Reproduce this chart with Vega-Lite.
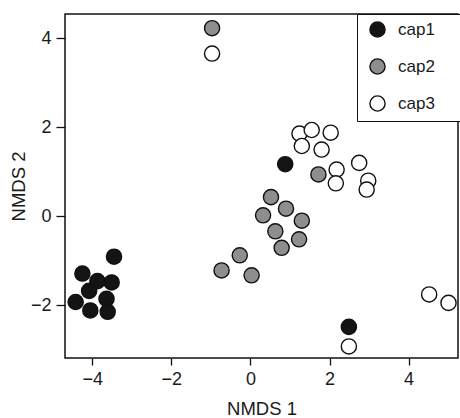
{
  "$schema": "https://vega.github.io/schema/vega-lite/v6.json",
  "autosize": "none",
  "width": 393,
  "height": 344,
  "padding": {"left": 65, "top": 14, "right": 2, "bottom": 60},
  "background": "white",
  "config": {
    "view": {"stroke": "#111", "strokeWidth": 1.5},
    "font": "Liberation Sans",
    "axis": {"grid": false, "domain": false, "tickColor": "#111", "tickWidth": 1.3, "labelFont": "Liberation Sans", "labelFontSize": 18, "labelColor": "#1a1a1a", "titleFont": "Liberation Sans", "titleFontSize": 18.5, "titleFontWeight": "normal", "titleColor": "#1a1a1a"}
  },
  "data": {
    "values": [
      {"x": -3.45, "y": -0.91, "cap": "cap1"},
      {"x": -4.25, "y": -1.29, "cap": "cap1"},
      {"x": -3.87, "y": -1.46, "cap": "cap1"},
      {"x": -3.51, "y": -1.49, "cap": "cap1"},
      {"x": -4.08, "y": -1.68, "cap": "cap1"},
      {"x": -4.42, "y": -1.93, "cap": "cap1"},
      {"x": -3.64, "y": -1.86, "cap": "cap1"},
      {"x": -4.05, "y": -2.12, "cap": "cap1"},
      {"x": -3.61, "y": -2.15, "cap": "cap1"},
      {"x": 0.88, "y": 1.17, "cap": "cap1"},
      {"x": 2.49, "y": -2.49, "cap": "cap1"},
      {"x": -0.97, "y": 4.23, "cap": "cap2"},
      {"x": 1.72, "y": 0.94, "cap": "cap2"},
      {"x": 0.52, "y": 0.43, "cap": "cap2"},
      {"x": 0.9, "y": 0.17, "cap": "cap2"},
      {"x": 0.32, "y": 0.02, "cap": "cap2"},
      {"x": 1.3, "y": -0.1, "cap": "cap2"},
      {"x": 0.63, "y": -0.34, "cap": "cap2"},
      {"x": 1.23, "y": -0.52, "cap": "cap2"},
      {"x": 0.79, "y": -0.71, "cap": "cap2"},
      {"x": -0.27, "y": -0.88, "cap": "cap2"},
      {"x": -0.73, "y": -1.22, "cap": "cap2"},
      {"x": 0.03, "y": -1.33, "cap": "cap2"},
      {"x": -0.97, "y": 3.66, "cap": "cap3"},
      {"x": 1.24, "y": 1.86, "cap": "cap3"},
      {"x": 1.55, "y": 1.94, "cap": "cap3"},
      {"x": 2.03, "y": 1.88, "cap": "cap3"},
      {"x": 1.3, "y": 1.58, "cap": "cap3"},
      {"x": 1.8, "y": 1.5, "cap": "cap3"},
      {"x": 2.75, "y": 1.2, "cap": "cap3"},
      {"x": 2.18, "y": 1.05, "cap": "cap3"},
      {"x": 2.16, "y": 0.74, "cap": "cap3"},
      {"x": 2.98, "y": 0.8, "cap": "cap3"},
      {"x": 2.94, "y": 0.6, "cap": "cap3"},
      {"x": 4.52, "y": -1.76, "cap": "cap3"},
      {"x": 5.01, "y": -1.95, "cap": "cap3"},
      {"x": 2.49, "y": -2.93, "cap": "cap3"}
    ]
  },
  "mark": {"type": "point", "shape": "circle", "filled": true, "size": 230, "stroke": "#111", "strokeWidth": 1.4, "opacity": 1},
  "encoding": {
    "x": {"field": "x", "type": "quantitative", "title": "NMDS 1",
      "scale": {"domain": [-4.69, 5.25], "nice": false, "zero": false},
      "axis": {"values": [-4, -2, 0, 2, 4], "tickSize": 7, "labelPadding": 5, "titleY": 56, "titleBaseline": "alphabetic"}},
    "y": {"field": "y", "type": "quantitative", "title": "NMDS 2",
      "scale": {"domain": [-3.19, 4.55], "nice": false, "zero": false},
      "axis": {"values": [-2, 0, 2, 4], "tickSize": 9, "labelPadding": 5, "titleX": -41, "titleY": 172, "titleBaseline": "alphabetic", "titleAlign": "center", "titleAngle": -90}},
    "fill": {"field": "cap", "type": "nominal",
      "scale": {"domain": ["cap1", "cap2", "cap3"], "range": ["#141414", "#8e8e8e", "#ffffff"]},
      "legend": {"title": null, "orient": "none", "legendX": 292, "legendY": 0, "padding": 7, "strokeColor": "#111", "fillColor": "white", "symbolType": "circle", "symbolSize": 230, "symbolStrokeColor": "#111", "symbolStrokeWidth": 1.4, "symbolOpacity": 1, "symbolOffset": 5, "labelFontSize": 17, "labelFont": "Liberation Sans", "labelColor": "#1a1a1a", "labelOffset": 12, "rowPadding": 16, "labelExpr": "datum.label + '\u2800\u2800'"}
    }
  }
}
